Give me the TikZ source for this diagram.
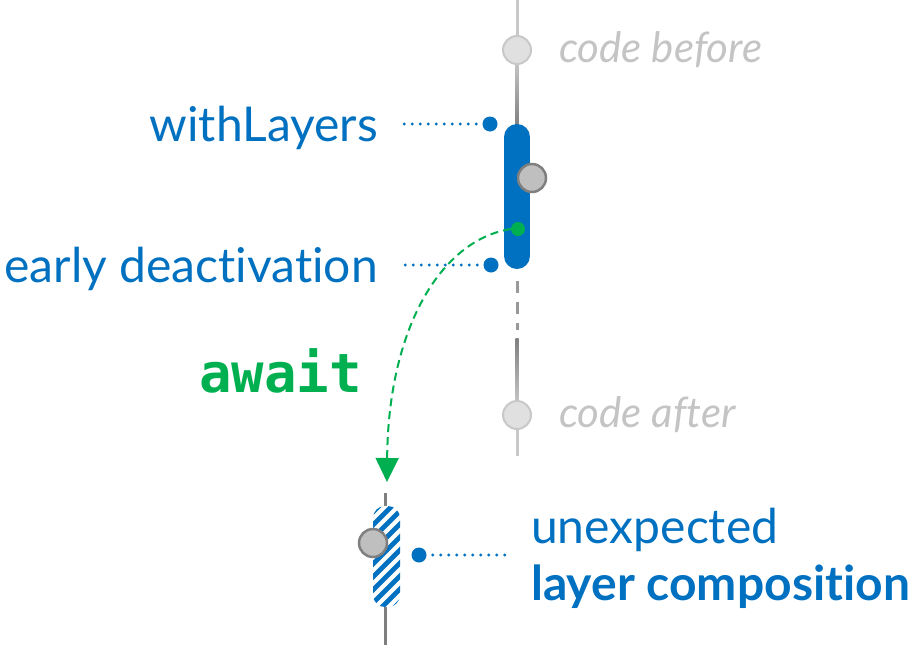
\documentclass[tikz,border=0pt]{standalone}
\usepackage{fontspec}
\setmainfont{Lato}[Ligatures=NoCommon]
\newfontfamily\codefont{DejaVu Sans Mono}
\usetikzlibrary{arrows.meta,shapes.geometric}
\definecolor{layerblue}{HTML}{0070C0}
\definecolor{awaitgreen}{HTML}{00B050}
\definecolor{lightline}{HTML}{C8C8C8}
\definecolor{darkline}{HTML}{7F7F7F}
\definecolor{fadedtext}{HTML}{C4C4C4}
\tikzset{
  faded/.style={circle,draw=lightline,fill=black!12,line width=2pt,minimum size=28pt,inner sep=0pt},
  active/.style={circle,draw=darkline,fill=black!25,line width=2.5pt,minimum size=28pt,inner sep=0pt},
  pin/.style={circle,fill=layerblue,minimum size=15pt,inner sep=0pt},
  leader/.style={layerblue,line width=3.2pt,line cap=round,dash pattern=on 0pt off 8pt},
  bluelabel/.style={text=layerblue,font=\fontsize{48}{56}\selectfont,inner sep=0pt},
  timelabel/.style={text=fadedtext,font=\itshape\fontsize{42}{48}\selectfont,inner sep=0pt,anchor=base west},
}
\begin{document}
\begin{tikzpicture}[x=1pt,y=-1pt]
\useasboundingbox (0,0) rectangle (915,648);

% upper timeline
\fill[lightline] (515.5,0) rectangle (518.5,60);
\shade[top color=lightline,bottom color=darkline] (515.5,60) rectangle (518.5,126);
\draw[black!40,line width=3pt,dash pattern=on 12pt off 9pt] (517,281) -- (517,330);
\shade[top color=darkline,bottom color=lightline] (515.5,338) rectangle (518.5,405);
\fill[lightline] (515.5,405) rectangle (518.5,456);

\node[faded] (before) at (517,50) {};
\node[faded] (after) at (517,415) {};
\node[timelabel] (beforetext) at (559,62) {code before};
\node[timelabel] (aftertext) at (559,427) {code after};

% the layer activation bar
\draw[layerblue,line width=26pt,line cap=round] (517,137) -- (517,256);
\node[active] (inner) at (532,178) {};
\node[circle,fill=awaitgreen,minimum size=14pt,inner sep=0pt] (suspend) at (518,229) {};

% labels on the bar
\node[pin] (pinA) at (490,124) {};
\node[pin] (pinB) at (491,265) {};
\node[bluelabel,anchor=base east] (withlayers) at (378,141) {withLayers};
\node[bluelabel,anchor=base east] (early) at (378,282) {early deactivation};
\draw[leader] (pinA.west) ++(-6,0) -- (398,124);
\draw[leader] (pinB.west) ++(-6,0) -- (398,265);

% resumed continuation
\node[text=awaitgreen,font=\codefont\bfseries\fontsize{54}{60}\selectfont,inner sep=0pt,anchor=base west] (await) at (199,392) {await};
\coordinate (land) at (387,482);
\draw[awaitgreen,line width=2pt,dash pattern=on 8pt off 5pt,
  -{Triangle[width=23pt,length=24pt]}]
  (suspend.west) .. controls (440,240) and (388,330) .. (land);

% lower timeline
\draw[darkline,line width=3pt] (385,493) -- (385,645);
\begin{scope}
  \clip[rounded corners=12pt] (373,506) rectangle (400,607);
  \fill[white] (373,506) rectangle (400,607);
  \foreach \k in {0,...,10}{
    \draw[layerblue,line width=4.8pt] (360,525+\k*13) -- (420,465+\k*13);
  }
\end{scope}
\node[active] (late) at (373,543) {};
\node[pin] (pinC) at (419,555) {};
\draw[leader] (pinC.east) ++(6,0) -- (510,555);
\node[bluelabel,anchor=base west] (unexp) at (531,543) {unexpected};
\node[bluelabel,anchor=base west,font=\bfseries\fontsize{48}{56}\selectfont] (compo) at (531,600) {layer composition};
\end{tikzpicture}
\end{document}
